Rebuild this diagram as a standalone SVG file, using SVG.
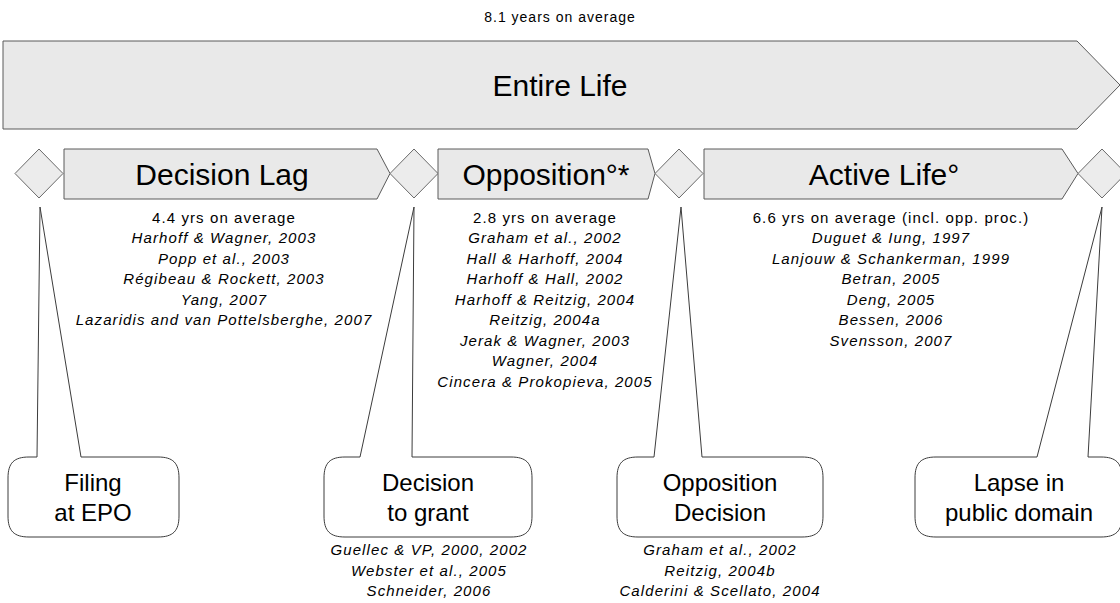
<svg xmlns="http://www.w3.org/2000/svg" width="1120" height="603" viewBox="0 0 1120 603">
<style>
.bg{fill:#ffffff}
.band{fill:#e9e9e9;stroke:#5a5a5a;stroke-width:1}
.dia{fill:#ececec;stroke:#6a6a6a;stroke-width:1}
.call{fill:#ffffff;stroke:#3c3c3c;stroke-width:1}
text{font-family:"Liberation Sans",Arial,sans-serif;fill:#000;text-anchor:middle}
.hd{font-size:30px}
.top{font-size:14px;letter-spacing:1px}
.sm{font-size:15px;letter-spacing:1.1px}
.it{font-size:15px;letter-spacing:1.1px;font-style:italic}
.cl{font-size:24px}
</style>
<rect class="bg" x="0" y="0" width="1120" height="603"/>

<g id="entire-life">
  <text class="top" x="560" y="22">8.1 years on average</text>
  <path class="band" d="M3,41 L1077,41 L1120,85 L1077,129 L3,129 Z"/>
  <text class="hd" x="560" y="96">Entire Life</text>
</g>

<g id="milestone-filing"><path class="dia" d="M39,149 L63,173.5 L39,198 L15,173.5 Z"/></g>
<g id="milestone-grant"><path class="dia" d="M414,149 L438,173.5 L414,198 L390,173.5 Z"/></g>
<g id="milestone-opposition"><path class="dia" d="M679,149 L703,173.5 L679,198 L655,173.5 Z"/></g>
<g id="milestone-lapse"><path class="dia" d="M1102,149 L1126,173.5 L1102,198 L1078,173.5 Z"/></g>

<g id="decision-lag">
  <path class="band" d="M64,149 L377,149 L390,173.5 L377,199 L64,199 Z"/>
  <text class="hd" x="222" y="185">Decision Lag</text>
  <text class="sm" x="224" y="222.5">4.4 yrs on average</text>
  <text class="it" x="224" y="243">Harhoff &amp; Wagner, 2003</text>
  <text class="it" x="224" y="263.5">Popp et al., 2003</text>
  <text class="it" x="224" y="284">Régibeau &amp; Rockett, 2003</text>
  <text class="it" x="224" y="304.5">Yang, 2007</text>
  <text class="it" x="224" y="325">Lazaridis and van Pottelsberghe, 2007</text>
</g>

<g id="opposition">
  <path class="band" d="M438,149 L648,149 L655,173.5 L648,199 L438,199 Z"/>
  <text class="hd" x="546" y="185">Opposition°*</text>
  <text class="sm" x="545" y="222.5">2.8 yrs on average</text>
  <text class="it" x="545" y="243">Graham et al., 2002</text>
  <text class="it" x="545" y="263.5">Hall &amp; Harhoff, 2004</text>
  <text class="it" x="545" y="284">Harhoff &amp; Hall, 2002</text>
  <text class="it" x="545" y="304.5">Harhoff &amp; Reitzig, 2004</text>
  <text class="it" x="545" y="325">Reitzig, 2004a</text>
  <text class="it" x="545" y="345.5">Jerak &amp; Wagner, 2003</text>
  <text class="it" x="545" y="366">Wagner, 2004</text>
  <text class="it" x="545" y="386.5">Cincera &amp; Prokopieva, 2005</text>
</g>

<g id="active-life">
  <path class="band" d="M704,149 L1062,149 L1078,173.5 L1062,199 L704,199 Z"/>
  <text class="hd" x="884" y="185">Active Life°</text>
  <text class="sm" x="891" y="222.5">6.6 yrs on average (incl. opp. proc.)</text>
  <text class="it" x="891" y="243">Duguet &amp; Iung, 1997</text>
  <text class="it" x="891" y="263.5">Lanjouw &amp; Schankerman, 1999</text>
  <text class="it" x="891" y="284">Betran, 2005</text>
  <text class="it" x="891" y="304.5">Deng, 2005</text>
  <text class="it" x="891" y="325">Bessen, 2006</text>
  <text class="it" x="891" y="345.5">Svensson, 2007</text>
</g>

<g id="connectors"></g>

<g id="callout-filing">
  <path class="call" d="M37,457 L40,207 L81,457 L158,457 C173,457 179,463 179,478 L179,516 C179,531 173,537 158,537 L29,537 C14,537 8,531 8,516 L8,478 C8,463 14,457 29,457 Z"/>
  <text class="cl" x="93" y="491">Filing</text>
  <text class="cl" x="93" y="521">at EPO</text>
</g>

<g id="callout-grant">
  <path class="call" d="M360,457 L414,207 L412,457 L511,457 C526,457 532,463 532,478 L532,516 C532,531 526,537 511,537 L345,537 C330,537 324,531 324,516 L324,478 C324,463 330,457 345,457 Z"/>
  <text class="cl" x="428" y="491">Decision</text>
  <text class="cl" x="428" y="521">to grant</text>
  <text class="it" x="429" y="555">Guellec &amp; VP, 2000, 2002</text>
  <text class="it" x="429" y="575.5">Webster et al., 2005</text>
  <text class="it" x="429" y="596">Schneider, 2006</text>
</g>

<g id="callout-opposition">
  <path class="call" d="M654,457 L681,207 L702,457 L802,457 C817,457 823,463 823,478 L823,516 C823,531 817,537 802,537 L638,537 C623,537 617,531 617,516 L617,478 C617,463 623,457 638,457 Z"/>
  <text class="cl" x="720" y="491">Opposition</text>
  <text class="cl" x="720" y="521">Decision</text>
  <text class="it" x="720" y="555">Graham et al., 2002</text>
  <text class="it" x="720" y="575.5">Reitzig, 2004b</text>
  <text class="it" x="720" y="596">Calderini &amp; Scellato, 2004</text>
</g>

<g id="callout-lapse">
  <path class="call" d="M1037,457 L1102,207 L1088,457 L1101,457 C1116,457 1122,463 1122,478 L1122,516 C1122,531 1116,537 1101,537 L936,537 C921,537 915,531 915,516 L915,478 C915,463 921,457 936,457 Z"/>
  <text class="cl" x="1019" y="491">Lapse in</text>
  <text class="cl" x="1019" y="521">public domain</text>
</g>
</svg>
